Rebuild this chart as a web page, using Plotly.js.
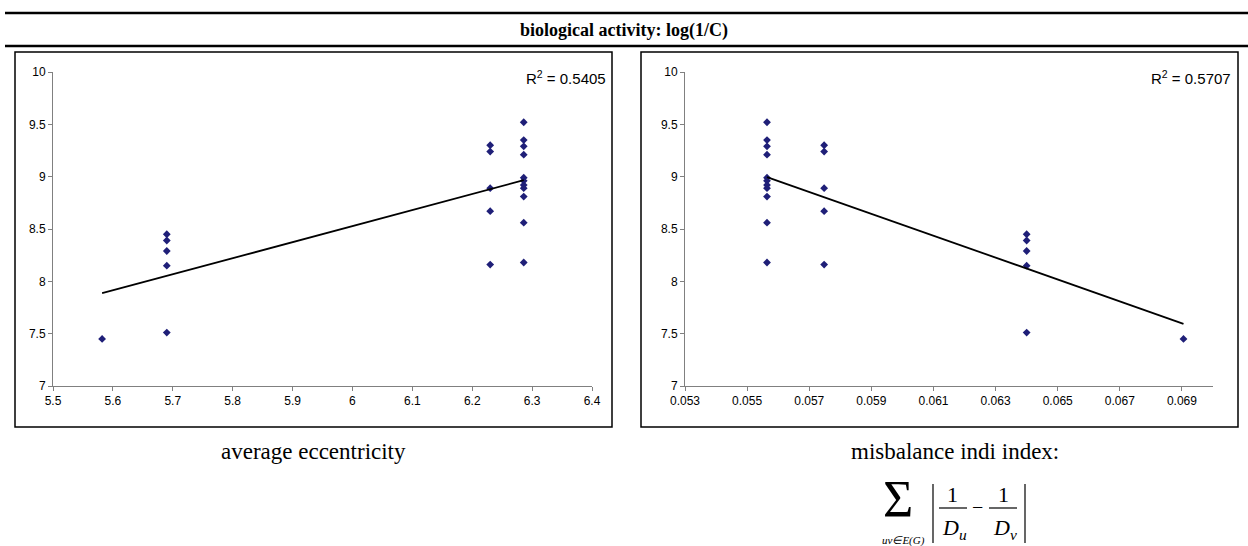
<!DOCTYPE html>
<html>
<head>
<meta charset="utf-8">
<script src="https://cdn.plot.ly/plotly-3.0.1.min.js"></script>
<style>
html,body{margin:0;padding:0;background:#fff;}
#chart{width:1248px;height:546px;}
</style>
</head>
<body>
<div id="chart"></div>
<script>
// ---- data ----
const activity = [9.52, 9.35, 9.29, 9.21, 8.99, 8.96, 8.92, 8.89, 8.81, 8.56, 8.18,
                  9.30, 9.24, 8.89, 8.67, 8.16,
                  8.45, 8.39, 8.29, 8.15, 7.51,
                  7.45];
const avgEccentricity = [6.286, 6.286, 6.286, 6.286, 6.286, 6.286, 6.286, 6.286, 6.286, 6.286, 6.286,
                         6.23, 6.23, 6.23, 6.23, 6.23,
                         5.69, 5.69, 5.69, 5.69, 5.69,
                         5.582];
const misbalanceIndi = [0.05564, 0.05564, 0.05564, 0.05564, 0.05564, 0.05564, 0.05564, 0.05564, 0.05564, 0.05564, 0.05564,
                        0.05748, 0.05748, 0.05748, 0.05748, 0.05748,
                        0.0640, 0.0640, 0.0640, 0.0640, 0.0640,
                        0.06905];
const r2Labels = ['0.5405', '0.5707'];
const yTicks = [7, 7.5, 8, 8.5, 9, 9.5, 10];
const yTickText = ['7', '7.5', '8', '8.5', '9', '9.5', '10'];
const xTicksLeft = [5.5, 5.6, 5.7, 5.8, 5.9, 6.0, 6.1, 6.2, 6.3, 6.4];
const xTickTextLeft = ['5.5', '5.6', '5.7', '5.8', '5.9', '6', '6.1', '6.2', '6.3', '6.4'];
const xTicksRight = [0.053, 0.055, 0.057, 0.059, 0.061, 0.063, 0.065, 0.067, 0.069];
const xTickTextRight = ['0.053', '0.055', '0.057', '0.059', '0.061', '0.063', '0.065', '0.067', '0.069'];

// ---- least-squares trendline from the data ----
function fit(xs, ys) {
  const n = xs.length;
  const mx = xs.reduce((a, b) => a + b, 0) / n;
  const my = ys.reduce((a, b) => a + b, 0) / n;
  let sxy = 0, sxx = 0;
  for (let i = 0; i < n; i++) { sxy += (xs[i] - mx) * (ys[i] - my); sxx += (xs[i] - mx) * (xs[i] - mx); }
  const b = sxy / sxx, a = my - b * mx;
  const x0 = Math.min(...xs), x1 = Math.max(...xs);
  return { x: [x0, x1], y: [a + b * x0, a + b * x1] };
}
const fitL = fit(avgEccentricity, activity);
const fitR = fit(misbalanceIndi, activity);

const W = 1248, H = 546;
const px = x => x / W, py = y => 1 - y / H;

const markerStyle = { symbol: 'diamond', size: 6, color: '#1f1f78', line: { width: 0 } };
const lineStyle = { color: '#000000', width: 1.8 };

const traces = [
  { type: 'scatter', mode: 'markers', x: avgEccentricity, y: activity, xaxis: 'x', yaxis: 'y', marker: markerStyle, hoverinfo: 'skip' },
  { type: 'scatter', mode: 'lines', x: fitL.x, y: fitL.y, xaxis: 'x', yaxis: 'y', line: lineStyle, hoverinfo: 'skip' },
  { type: 'scatter', mode: 'markers', x: misbalanceIndi, y: activity, xaxis: 'x2', yaxis: 'y2', marker: markerStyle, hoverinfo: 'skip' },
  { type: 'scatter', mode: 'lines', x: fitR.x, y: fitR.y, xaxis: 'x2', yaxis: 'y2', line: lineStyle, hoverinfo: 'skip' }
];

const tickFont = { family: 'Arial, "Liberation Sans", sans-serif', size: 12, color: '#000' };
const axisBase = {
  showline: true, linecolor: '#808080', linewidth: 1,
  ticks: 'outside', ticklen: 4, tickcolor: '#808080', tickwidth: 1,
  showgrid: false, zeroline: false, tickfont: tickFont, fixedrange: true
};
const yDom = [py(386), py(72)];

const serif = '"Liberation Serif", "Times New Roman", Times, serif';
function ann(text, x, y, size, opts) {
  return Object.assign({
    text: text, x: px(x), y: py(y), xref: 'paper', yref: 'paper', showarrow: false,
    xanchor: 'center', yanchor: 'middle',
    font: { family: serif, size: size, color: '#000' }
  }, opts || {});
}
const sansR2 = { family: 'Arial, "Liberation Sans", sans-serif', size: 15, color: '#000' };
const italic = s => ({ family: serif, size: s, color: '#000', style: 'italic' });

const annotations = [
  ann('<b>biological activity: log(1/C)</b>', 624, 30, 18),
  ann('R<sup>2</sup> = ' + r2Labels[0], 608, 78, 15, { xanchor: 'right', font: sansR2 }),
  ann('R<sup>2</sup> = ' + r2Labels[1], 1233, 78, 15, { xanchor: 'right', font: sansR2 }),
  ann('average eccentricity', 313, 451, 23),
  ann('misbalance indi index:', 955, 451, 23),
  // formula
  ann('Σ', 898, 499, 52),
  ann('uv∈E(G)', 903, 540, 11, { font: italic(11) }),
  ann('1', 953, 494, 22),
  ann('D<sub>u</sub>', 955, 529, 22, { font: italic(22) }),
  ann('−', 977, 507, 20),
  ann('1', 1003, 494, 22),
  ann('D<sub>v</sub>', 1005, 529, 22, { font: italic(22) })
];

const shapes = [
  // header rules
  { type: 'line', xref: 'paper', yref: 'paper', x0: px(5), x1: px(1248), y0: py(13), y1: py(13), line: { color: '#000', width: 2.5 } },
  { type: 'line', xref: 'paper', yref: 'paper', x0: px(5), x1: px(1248), y0: py(46), y1: py(46), line: { color: '#000', width: 2.5 } },
  // chart frames
  { type: 'rect', xref: 'paper', yref: 'paper', x0: px(15), x1: px(612), y0: py(427), y1: py(52), line: { color: '#000', width: 1.5 } },
  { type: 'rect', xref: 'paper', yref: 'paper', x0: px(641), x1: px(1238), y0: py(427), y1: py(52), line: { color: '#000', width: 1.5 } },
  // formula bars
  { type: 'line', xref: 'paper', yref: 'paper', x0: px(933), x1: px(933), y0: py(484), y1: py(543), line: { color: '#000', width: 1.2 } },
  { type: 'line', xref: 'paper', yref: 'paper', x0: px(1025), x1: px(1025), y0: py(484), y1: py(543), line: { color: '#000', width: 1.2 } },
  { type: 'line', xref: 'paper', yref: 'paper', x0: px(939), x1: px(967), y0: py(508), y1: py(508), line: { color: '#000', width: 1.2 } },
  { type: 'line', xref: 'paper', yref: 'paper', x0: px(989), x1: px(1017), y0: py(508), y1: py(508), line: { color: '#000', width: 1.2 } }
];

const layout = {
  width: W, height: H,
  margin: { l: 0, r: 0, t: 0, b: 0, pad: 0 },
  paper_bgcolor: '#fff', plot_bgcolor: 'rgba(0,0,0,0)',
  showlegend: false,
  xaxis: Object.assign({}, axisBase, { domain: [px(53), px(592)], range: [5.5, 6.4], tickmode: 'array', tickvals: xTicksLeft, ticktext: xTickTextLeft, anchor: 'y' }),
  yaxis: Object.assign({}, axisBase, { domain: yDom, range: [7, 10], tickmode: 'array', tickvals: yTicks, ticktext: yTickText, anchor: 'x' }),
  xaxis2: Object.assign({}, axisBase, { domain: [px(685), px(1213)], range: [0.053, 0.070], tickmode: 'array', tickvals: xTicksRight, ticktext: xTickTextRight, anchor: 'y2' }),
  yaxis2: Object.assign({}, axisBase, { domain: yDom, range: [7, 10], tickmode: 'array', tickvals: yTicks, ticktext: yTickText, anchor: 'x2' }),
  annotations: annotations,
  shapes: shapes
};

Plotly.newPlot('chart', traces, layout, { staticPlot: true, displayModeBar: false });
</script>
</body>
</html>
